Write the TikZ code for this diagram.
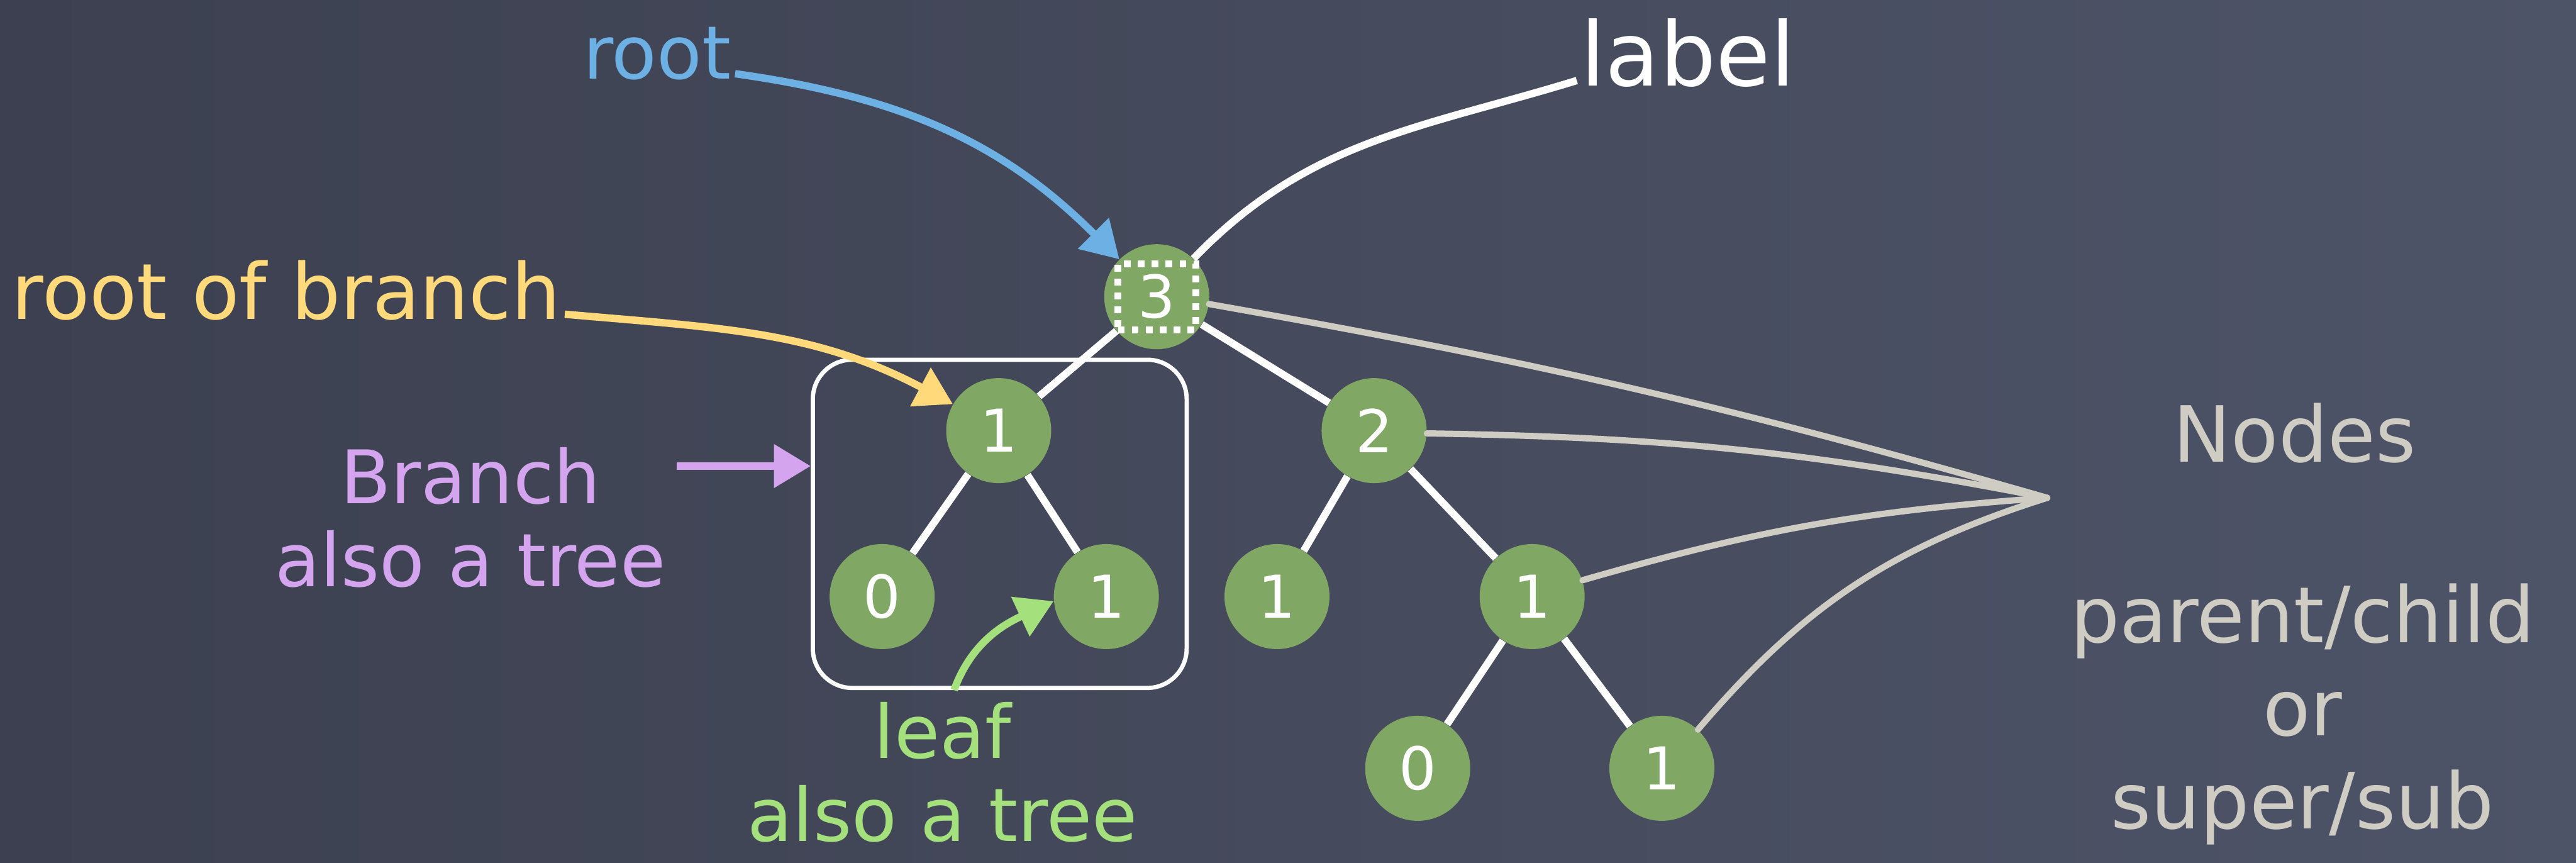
\documentclass[tikz,border=0pt]{standalone}
\usepackage{fontspec}
\setmainfont{DejaVu Sans}
\usetikzlibrary{arrows.meta, positioning, calc}

\definecolor{boardL}{RGB}{60,64,80}
\definecolor{boardR}{RGB}{78,84,104}
\definecolor{leafgreen}{RGB}{128,168,100}
\definecolor{chalkblue}{RGB}{108,176,228}
\definecolor{chalkyellow}{RGB}{255,217,122}
\definecolor{chalkpurple}{RGB}{212,165,238}
\definecolor{chalkgreen}{RGB}{164,224,124}
\definecolor{chalkgray}{RGB}{207,204,196}

\begin{document}
\begin{tikzpicture}[
    >={Triangle[length=7mm, width=8mm]},
    tnode/.style   ={circle, fill=leafgreen, minimum size=2cm, inner sep=0pt,
                     text=white, font=\fontsize{32}{36}\selectfont},
    treeline/.style={white, line width=4pt},
    fanline/.style ={chalkgray, line width=3.4pt, line cap=round},
    note/.style    ={inner sep=2pt, align=center, font=\fontsize{40}{45}\selectfont},
    pointer/.style ={->, line width=4pt},
    branchbox/.style={draw=white, line width=2.3pt, rounded corners=7.5mm,
                     minimum width=7.12cm, minimum height=6.25cm},
    labelbox/.style={draw=white, line width=1.3mm, dash pattern=on 1.3mm off 1.35mm,
                     minimum width=1.48cm, minimum height=1.26cm, inner sep=0pt}
  ]

  % ---- board ------------------------------------------------------------
  \useasboundingbox (0,0) rectangle (49.06,16.43);
  \fill[left color=boardL, right color=boardR] (0,0) rectangle (49.06,16.43);

  % ---- tree -------------------------------------------------------------
  \node[tnode] (n3) at (22.03, 10.78) {3};
  \node[tnode] (b1) at (19.02,  8.23) {1};
  \node[tnode] (n2) at (26.17,  8.23) {2};
  \node[tnode] (l0) at (16.80,  5.07) {0};
  \node[tnode] (l1) at (21.07,  5.07) {1};
  \node[tnode] (m1) at (24.32,  5.07) {1};
  \node[tnode] (r1) at (29.18,  5.07) {1};
  \node[tnode] (d0) at (27.00,  1.80) {0};
  \node[tnode] (d1) at (31.65,  1.80) {1};

  \node[labelbox]  (tag) at (n3) {};
  \node[branchbox] (box) at (19.04, 6.455) {};

  \draw[treeline] (n3) -- (b1);
  \draw[treeline] (n3) -- (n2);
  \draw[treeline] (b1) -- (l0);
  \draw[treeline] (b1) -- (l1);
  \draw[treeline] (n2) -- (m1);
  \draw[treeline] (n2) -- (r1);
  \draw[treeline] (r1) -- (d0);
  \draw[treeline] (r1) -- (d1);

  % ---- fan of "Nodes" lines ---------------------------------------------
  \coordinate (hub) at (38.99, 6.95);
  \draw[fanline] (n3.-8) to[bend left=3]  (hub);
  \draw[fanline] (n2.-3) to[bend left=5]  (hub);
  \draw[fanline] (r1.18) to[bend left=6]  (hub);
  \draw[fanline] (d1.47) to[bend left=16] (hub);

  % ---- notes ------------------------------------------------------------
  \node[note, text=chalkblue, anchor=base east] (rootlbl) at (14.00, 14.93) {root};
  \node[note, text=white, anchor=base west, font=\fontsize{48}{54}\selectfont]
        (tagtxt) at (30.03, 14.80) {label};
  \node[note, text=chalkyellow, anchor=base west, font=\fontsize{42}{48}\selectfont]
        (rob) at (0.15, 10.35) {root of branch};
  \node[note, text=chalkpurple] (brtxt)   at (8.96, 6.58) {Branch\\also a tree};
  \node[note, text=chalkgreen]  (leaftxt) at (17.95, 1.73) {leaf\\also a tree};
  \node[note, text=chalkgray, anchor=base, font=\fontsize{42}{50}\selectfont]
        (nodestxt) at (43.70, 7.63) {Nodes};
  \node[note, text=chalkgray, font=\fontsize{42}{50.5}\selectfont]
        (reltxt) at (43.85, 2.83) {parent/child\\or\\super/sub};

  % ---- pointers ---------------------------------------------------------
  \draw[pointer, chalkblue] (rootlbl.mid east) to[out=-8, in=135] (n3.135);
  \draw[treeline] (tagtxt.mid west) to[out=197, in=46] (n3.46);
  \draw[pointer, chalkyellow] (rob.mid east) to[out=-5, in=152] (b1.150);
  \draw[pointer, chalkpurple]
      ([xshift=-2.55cm, yshift=1.10cm]box.west) -- ([yshift=1.10cm]box.west);
  \draw[pointer, chalkgreen] ([xshift=-8.7mm]box.south) to[out=70, in=205] (l1.185);

\end{tikzpicture}
\end{document}
